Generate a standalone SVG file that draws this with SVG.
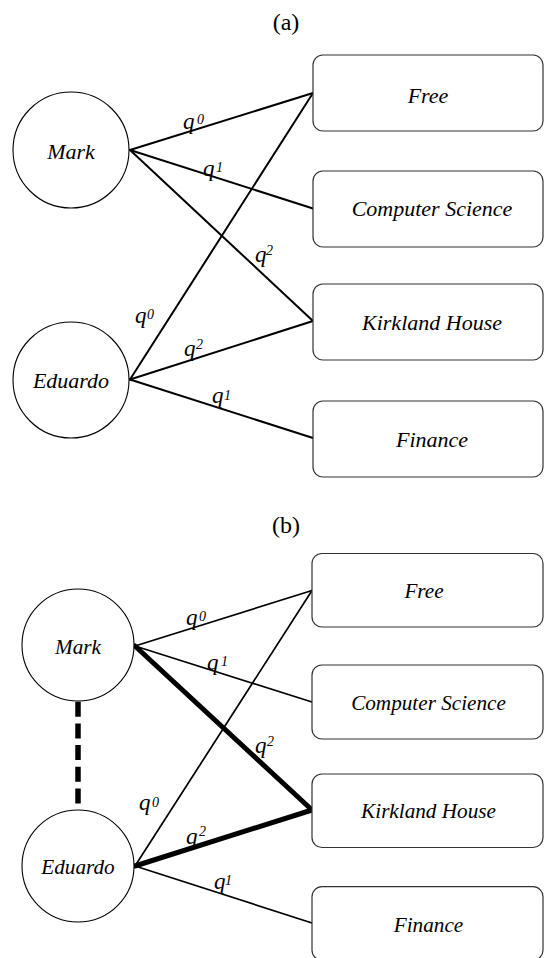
<svg xmlns="http://www.w3.org/2000/svg" width="544" height="958" viewBox="0 0 544 958">
<defs>
<symbol id="unused"/>
</defs>
<rect x="0" y="0" width="544" height="958" fill="#fff"/>
<text x="286" y="30" font-family="Liberation Serif" font-size="24" text-anchor="middle">(a)</text>
<text x="286" y="533" font-family="Liberation Serif" font-size="24" text-anchor="middle">(b)</text>

<g id="connectors" stroke="#000" fill="none" stroke-linecap="round">
  <g stroke-width="2">
  <line x1="130" y1="150" x2="313" y2="93"/>
  <line x1="130" y1="150" x2="313" y2="208.5"/>
  <line x1="130" y1="150" x2="313" y2="321"/>
  <line x1="130" y1="379.5" x2="313" y2="93"/>
  <line x1="130" y1="379.5" x2="313" y2="321"/>
  <line x1="130" y1="379.5" x2="313" y2="438"/>
  </g>
  <g stroke-width="1.7">
  <line x1="135" y1="646" x2="312" y2="590.5"/>
  <line x1="135" y1="646" x2="312" y2="702"/>
  <line x1="135" y1="866" x2="312" y2="590.5"/>
  <line x1="135" y1="866" x2="312" y2="923"/>
  </g>
  <g stroke-width="5">
  <line x1="135" y1="646" x2="312" y2="810"/>
  <line x1="135" y1="866" x2="312" y2="810"/>
  </g>
  <line x1="78" y1="701.7" x2="78" y2="810" stroke-width="5.5" stroke-linecap="butt" stroke-dasharray="15 6.7"/>
</g>

<g id="edge-labels" fill="#000">
  <text x="183" y="129" font-family="Liberation Serif" font-style="italic" font-size="23">q</text>
  <text x="203" y="176" font-family="Liberation Serif" font-style="italic" font-size="23">q</text>
  <text x="255" y="262" font-family="Liberation Serif" font-style="italic" font-size="23">q</text>
  <text x="135" y="323" font-family="Liberation Serif" font-style="italic" font-size="23">q</text>
  <text x="184" y="356" font-family="Liberation Serif" font-style="italic" font-size="23">q</text>
  <text x="212" y="403" font-family="Liberation Serif" font-style="italic" font-size="23">q</text>
  <text x="186" y="625" font-family="Liberation Serif" font-style="italic" font-size="23">q</text>
  <text x="207" y="670" font-family="Liberation Serif" font-style="italic" font-size="23">q</text>
  <text x="255" y="753" font-family="Liberation Serif" font-style="italic" font-size="23">q</text>
  <text x="139" y="810" font-family="Liberation Serif" font-style="italic" font-size="23">q</text>
  <text x="186" y="844" font-family="Liberation Serif" font-style="italic" font-size="23">q</text>
  <text x="214" y="889" font-family="Liberation Serif" font-style="italic" font-size="23">q</text>
  <text x="197" y="124" font-family="Liberation Serif" font-style="italic" font-size="14">0</text>
  <text x="216" y="172" font-family="Liberation Serif" font-style="italic" font-size="14">1</text>
  <text x="266" y="255" font-family="Liberation Serif" font-style="italic" font-size="14">2</text>
  <text x="147" y="319" font-family="Liberation Serif" font-style="italic" font-size="14">0</text>
  <text x="196" y="349" font-family="Liberation Serif" font-style="italic" font-size="14">2</text>
  <text x="224" y="400" font-family="Liberation Serif" font-style="italic" font-size="14">1</text>
  <text x="199" y="621" font-family="Liberation Serif" font-style="italic" font-size="14">0</text>
  <text x="221" y="666" font-family="Liberation Serif" font-style="italic" font-size="14">1</text>
  <text x="267" y="746" font-family="Liberation Serif" font-style="italic" font-size="14">2</text>
  <text x="152" y="807" font-family="Liberation Serif" font-style="italic" font-size="14">0</text>
  <text x="199" y="836" font-family="Liberation Serif" font-style="italic" font-size="14">2</text>
  <text x="225" y="885" font-family="Liberation Serif" font-style="italic" font-size="14">1</text>
</g>

<g id="a-mark"><circle cx="71" cy="150" r="58" fill="#fff" stroke="#000" stroke-width="1.1"/><text x="71" y="159" font-family="Liberation Serif" font-style="italic" font-size="22" text-anchor="middle">Mark</text></g>
<g id="a-eduardo"><circle cx="71" cy="380" r="58" fill="#fff" stroke="#000" stroke-width="1.1"/><text x="71" y="388" font-family="Liberation Serif" font-style="italic" font-size="22" text-anchor="middle">Eduardo</text></g>
<g id="a-free"><rect x="313" y="55" width="230" height="76" rx="10" fill="#fff" stroke="#333" stroke-width="1.2"/><text x="428" y="102.5" font-family="Liberation Serif" font-style="italic" font-size="22" text-anchor="middle">Free</text></g>
<g id="a-cs"><rect x="313" y="171" width="230" height="76" rx="10" fill="#fff" stroke="#333" stroke-width="1.2"/><text x="432" y="216" font-family="Liberation Serif" font-style="italic" font-size="22" text-anchor="middle">Computer Science</text></g>
<g id="a-kh"><rect x="313" y="284" width="230" height="76" rx="10" fill="#fff" stroke="#333" stroke-width="1.2"/><text x="432" y="330" font-family="Liberation Serif" font-style="italic" font-size="22" text-anchor="middle">Kirkland House</text></g>
<g id="a-fin"><rect x="313" y="401" width="230" height="76" rx="10" fill="#fff" stroke="#333" stroke-width="1.2"/><text x="432" y="446.5" font-family="Liberation Serif" font-style="italic" font-size="22" text-anchor="middle">Finance</text></g>

<g id="b-mark"><circle cx="78" cy="645" r="56" fill="#fff" stroke="#000" stroke-width="1.1"/><text x="78" y="654" font-family="Liberation Serif" font-style="italic" font-size="21.2" text-anchor="middle">Mark</text></g>
<g id="b-eduardo"><circle cx="78" cy="866" r="56" fill="#fff" stroke="#000" stroke-width="1.1"/><text x="78" y="874" font-family="Liberation Serif" font-style="italic" font-size="21.2" text-anchor="middle">Eduardo</text></g>
<g id="b-free"><rect x="312" y="553.5" width="231" height="73.5" rx="10" fill="#fff" stroke="#333" stroke-width="1.2"/><text x="424" y="598.3" font-family="Liberation Serif" font-style="italic" font-size="21.2" text-anchor="middle">Free</text></g>
<g id="b-cs"><rect x="312" y="665" width="231" height="74" rx="10" fill="#fff" stroke="#333" stroke-width="1.2"/><text x="428.5" y="710" font-family="Liberation Serif" font-style="italic" font-size="21.2" text-anchor="middle">Computer Science</text></g>
<g id="b-kh"><rect x="312" y="774" width="231" height="73.5" rx="10" fill="#fff" stroke="#333" stroke-width="1.2"/><text x="428.5" y="818.3" font-family="Liberation Serif" font-style="italic" font-size="21.2" text-anchor="middle">Kirkland House</text></g>
<g id="b-fin"><rect x="312" y="886.7" width="231" height="73.5" rx="10" fill="#fff" stroke="#333" stroke-width="1.2"/><text x="428.5" y="931.7" font-family="Liberation Serif" font-style="italic" font-size="21.2" text-anchor="middle">Finance</text></g>
</svg>
